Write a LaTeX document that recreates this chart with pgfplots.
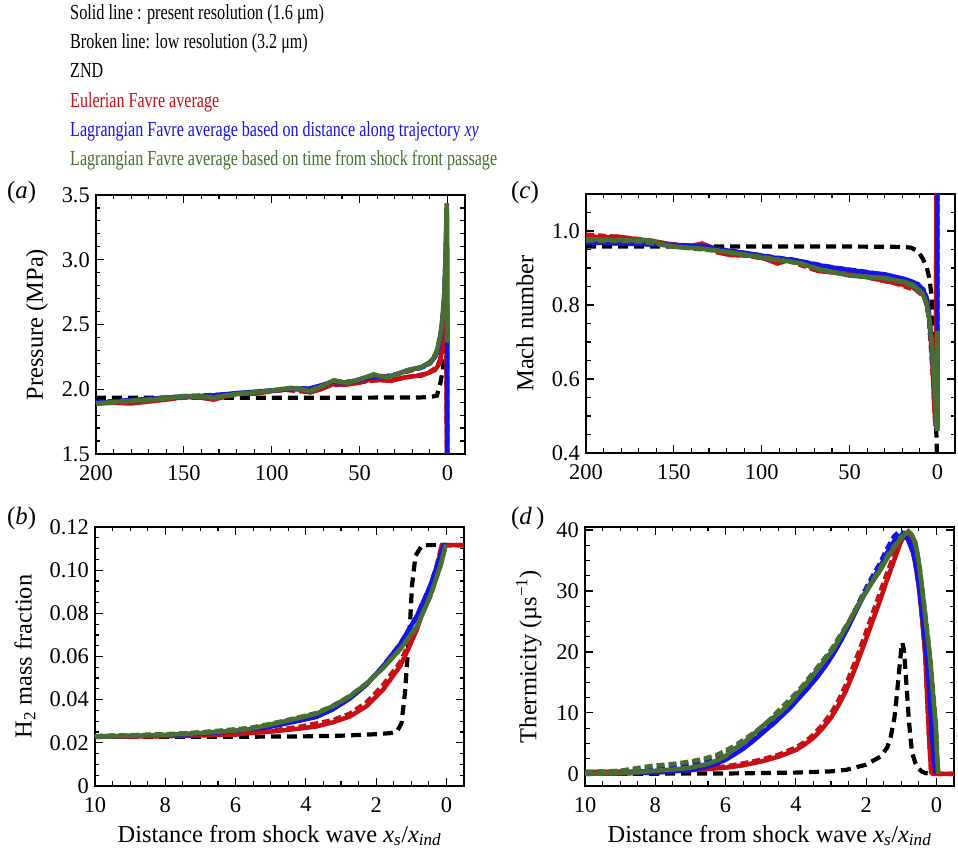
\documentclass[border=0pt]{standalone}
\usepackage{fontspec}
\setmainfont{Liberation Serif}
\usepackage{graphicx}
\usepackage{pgfplots}
\pgfplotsset{compat=1.18}
\definecolor{cred}{RGB}{200,16,20}
\definecolor{cblue}{RGB}{20,20,230}
\definecolor{cgreen}{RGB}{72,110,50}
\newcommand{\tickfont}{\fontsize{22.5}{25}\selectfont}
\newcommand{\labfont}{\fontsize{24.5}{28}\selectfont}
\pgfplotsset{
  panel/.style={
    scale only axis, width=369bp, height=259bp, x dir=reverse,
    axis line style={line width=1.8bp},
    every tick/.style={line width=1.2bp, black},
    major tick length=8bp, minor tick length=4.5bp,
    tick align=inside,
    tick label style={font=\tickfont},
    xticklabel style={inner sep=0pt, yshift=-11bp},
    yticklabel style={inner sep=0pt, xshift=-6bp},
    /pgf/number format/assume math mode=true,
    every axis x label/.style={at={(axis description cs:0.5,0)},anchor=base,yshift=-56bp,font=\labfont},
  },
  zndl/.style={black, line width=4.2bp, dash pattern=on 10bp off 6bp},
  rs/.style={cred, line width=4.5bp},
  bs/.style={cblue, line width=4.5bp},
  gs/.style={cgreen, line width=4.5bp},
  rd/.style={cred, line width=4.5bp, dash pattern=on 8bp off 4bp},
  bd/.style={cblue, line width=4.5bp, dash pattern=on 8bp off 4bp},
  gd/.style={cgreen, line width=4.5bp, dash pattern=on 8bp off 4bp},
}
\begin{document}
\begin{tikzpicture}
\useasboundingbox (0,0) rectangle (958bp,856bp);
% header text
\begin{scope}[every node/.style={anchor=base west, inner sep=0pt, font=\fontsize{21.5}{24}\selectfont}]
\node at (70bp,836bp) {\scalebox{0.76}[1]{Solid line : present resolution (1.6 μm)}};
\node at (70bp,807bp) {\scalebox{0.75}[1]{Broken line: low resolution (3.2 μm)}};
\node at (70bp,778bp) {\scalebox{0.75}[1]{ZND}};
\node[text=cred] at (70bp,748.5bp) {\scalebox{0.75}[1]{Eulerian Favre average}};
\node[text=cblue] at (70bp,719bp) {\scalebox{0.75}[1]{Lagrangian Favre average based on distance along trajectory \textit{xy}}};
\node[text=cgreen] at (70bp,690bp) {\scalebox{0.75}[1]{Lagrangian Favre average based on time from shock front passage}};
\end{scope}
\begin{scope}[every node/.style={anchor=base west, inner sep=0pt, font=\fontsize{25}{28}\selectfont}]
\node at (7bp,657bp) {(\textit{a})};
\node at (511bp,657bp) {(\textit{c})};
\node at (7bp,331bp) {(\textit{b})};
\node at (511bp,331bp) {(\textit{d}\,)};
\end{scope}

% ---------------- (a) Pressure
\begin{axis}[panel, at={(96bp,402bp)}, anchor=south west,
  xmin=-10, xmax=200, ymin=1.5, ymax=3.5,
  xtick={0,50,100,150,200},
  minor xtick={10,20,30,40,60,70,80,90,110,120,130,140,160,170,180,190},
  ytick={1.5,2,2.5,3,3.5}, yticklabels={1.5,2.0,2.5,3.0,3.5},
  minor ytick={1.6,1.7,1.8,1.9,2.1,2.2,2.3,2.4,2.6,2.7,2.8,2.9,3.1,3.2,3.3,3.4},
  ylabel={Pressure (MPa)},
  every axis y label/.style={at={(axis description cs:-0.16,0.5)},rotate=90,anchor=center,font=\labfont},
]
\addplot[zndl] coordinates {(200,1.935) (150,1.935) (100,1.935) (50,1.935) (15,1.937) (9.7,1.94) (6,1.95) (4,2.05) (2.6,2.15) (1.5,2.3) (0.5,2.5) (0,2.6)};
\addplot[rd] coordinates {(200,1.895) (185,1.9) (170,1.91) (155,1.93) (145,1.94) (133,1.925) (120,1.96) (105,1.98) (92,1.995) (80,1.98) (70,2.02) (60,2.04) (50,2.055) (40,2.07) (30,2.075) (20,2.1) (12,2.12) (7,2.16) (4,2.22) (2.5,2.38) (1.5,2.56) (1.0,2.7) (0.5,2.73) (0.3,1.0)};
\addplot[rs] coordinates {(200,1.89) (190,1.895) (180,1.89) (170,1.905) (160,1.92) (150,1.94) (140,1.935) (133,1.92) (125,1.95) (118,1.97) (110,1.965) (100,1.985) (92,2.0) (85,2.0) (78,1.975) (72,2.0) (65,2.04) (58,2.035) (50,2.05) (45,2.07) (38,2.07) (32,2.065) (25,2.09) (20,2.10) (15,2.105) (10,2.13) (7,2.15) (5,2.19) (3.5,2.27) (2.5,2.38) (1.8,2.5) (1.3,2.62) (0.9,2.72) (0.5,2.75) (0.3,1.0)};
\addplot[bd] coordinates {(200,1.9) (175,1.92) (150,1.945) (125,1.96) (100,1.99) (85,2.005) (75,2.01) (65,2.055) (55,2.06) (45,2.09) (35,2.1) (25,2.13) (15,2.165) (10,2.2) (6,2.28) (4,2.4) (2.5,2.57) (1.5,2.8) (0.8,3.1) (0.4,3.2) (0.15,2.36) (0.05,0.5)};
\addplot[bs] coordinates {(200,1.895) (180,1.915) (160,1.935) (150,1.945) (135,1.95) (120,1.97) (100,1.99) (90,2.0) (80,2.0) (72,2.03) (65,2.06) (58,2.05) (50,2.07) (42,2.1) (35,2.09) (28,2.12) (22,2.15) (15,2.17) (10,2.2) (7,2.25) (5,2.33) (3.5,2.45) (2.5,2.58) (1.8,2.72) (1.2,2.95) (0.8,3.15) (0.5,3.3) (0.3,3.3) (0.05,2.36) (0.0,0.5)};
\addplot[gd] coordinates {(200,1.89) (175,1.915) (150,1.945) (130,1.94) (115,1.97) (100,1.99) (89,2.01) (78,1.99) (64,2.065) (57,2.05) (42,2.11) (34,2.095) (23,2.14) (15,2.17) (10,2.2) (6,2.29) (3.4,2.47) (1.9,2.7) (1.0,3.0) (0.5,3.35) (0.3,3.35) (0.2,2.36)};
\addplot[gs] coordinates {(200,1.89) (190,1.90) (180,1.91) (170,1.915) (160,1.93) (150,1.948) (140,1.945) (133,1.935) (125,1.955) (115,1.97) (105,1.98) (100,1.99) (95,2.0) (89,2.01) (84,2.005) (78,1.985) (72,2.02) (64.5,2.07) (60,2.055) (57,2.05) (50,2.075) (42,2.115) (38,2.1) (34.5,2.09) (28,2.12) (23,2.145) (18,2.16) (15,2.17) (10,2.21) (8,2.24) (6,2.30) (4.5,2.38) (3.4,2.48) (2.5,2.6) (1.9,2.71) (1.4,2.85) (1.0,3.05) (0.7,3.25) (0.5,3.42) (0.3,3.42) (0.1,2.36)};
\end{axis}

% ---------------- (c) Mach
\begin{axis}[panel, at={(586bp,403bp)}, anchor=south west,
  xmin=-10, xmax=200, ymin=0.4, ymax=1.1,
  xtick={0,50,100,150,200},
  minor xtick={10,20,30,40,60,70,80,90,110,120,130,140,160,170,180,190},
  ytick={0.4,0.6,0.8,1.0}, yticklabels={0.4,0.6,0.8,1.0},
  minor ytick={0.45,0.5,0.55,0.65,0.7,0.75,0.85,0.9,0.95,1.05},
  ylabel={Mach number},
  every axis y label/.style={at={(axis description cs:-0.165,0.5)},rotate=90,anchor=center,font=\labfont},
]
\addplot[zndl] coordinates {(200,0.958) (150,0.958) (100,0.958) (50,0.958) (20,0.957) (15,0.955) (11,0.945) (8.3,0.925) (6,0.9) (4.5,0.87) (3.5,0.83) (2.6,0.76) (1.8,0.65) (1.1,0.54) (0.6,0.45) (0.3,0.40) (0,0.39)};
\addplot[rd] coordinates {(200,0.99) (185,0.985) (170,0.978) (155,0.966) (140,0.96) (133,0.963) (125,0.945) (110,0.935) (95,0.922) (85,0.92) (70,0.895) (55,0.886) (40,0.875) (25,0.86) (12,0.84) (7,0.82) (5,0.77) (3.6,0.68) (2.5,0.6) (1.8,0.53) (1.2,0.48) (0.8,0.47) (0.6,1.2)};
\addplot[rs] coordinates {(200,0.987) (190,0.982) (182,0.985) (172,0.978) (163,0.974) (153,0.965) (145,0.958) (140,0.96) (134,0.966) (128,0.955) (125,0.942) (118,0.935) (106,0.933) (98,0.925) (91,0.912) (87,0.918) (83.5,0.924) (78,0.918) (68,0.892) (60,0.888) (49,0.883) (40,0.875) (30,0.865) (20.5,0.856) (15,0.85) (11,0.838) (7.2,0.825) (5,0.78) (3.6,0.70) (2.6,0.62) (1.8,0.53) (1.2,0.48) (0.8,0.47) (0.6,1.2)};
\addplot[bd] coordinates {(200,0.97) (170,0.965) (140,0.96) (120,0.948) (100,0.934) (80,0.92) (60,0.902) (40,0.889) (25,0.877) (14,0.862) (8,0.842) (6,0.818) (4.6,0.77) (3.5,0.7) (2.5,0.64) (1.5,0.57) (0.8,0.52) (0.4,0.48) (0.1,0.47) (0.05,0.73) (0,1.2)};
\addplot[bs] coordinates {(200,0.969) (180,0.966) (165,0.964) (153,0.963) (140,0.96) (130,0.957) (125,0.951) (115,0.944) (106,0.938) (96,0.93) (87,0.924) (78,0.918) (68,0.908) (58,0.9) (49,0.894) (40,0.888) (30,0.883) (24,0.876) (18.5,0.870) (14,0.862) (11,0.856) (8,0.84) (6,0.815) (4.6,0.77) (3.5,0.7) (2.5,0.64) (1.5,0.57) (0.8,0.52) (0.4,0.48) (0.1,0.47) (0.05,0.73) (0.0,1.2)};
\addplot[gd] coordinates {(200,0.975) (170,0.972) (150,0.958) (125,0.946) (100,0.93) (80,0.914) (68,0.898) (50,0.88) (35,0.874) (20,0.863) (11,0.843) (8,0.828) (6,0.8) (4.6,0.76) (3.5,0.71) (2.7,0.66) (1.9,0.6) (1.2,0.535) (0.7,0.49) (0.4,0.47) (0.1,0.46) (0.05,0.73)};
\addplot[gs] coordinates {(200,0.978) (185,0.976) (163,0.974) (155,0.962) (147,0.956) (135,0.953) (125,0.947) (115,0.94) (106,0.933) (96,0.925) (87,0.92) (78,0.913) (68,0.897) (58,0.887) (49,0.879) (40,0.876) (30,0.873) (24,0.867) (18.5,0.862) (14,0.855) (11,0.842) (8.3,0.829) (6,0.8) (4.6,0.761) (3.5,0.71) (2.7,0.661) (1.9,0.6) (1.2,0.535) (0.7,0.49) (0.4,0.471) (0.1,0.46) (0.05,0.73)};
\end{axis}

% ---------------- (b) H2 mass fraction
\begin{axis}[panel, at={(95bp,70bp)}, anchor=south west,
  xmin=-0.5, xmax=10, ymin=0, ymax=0.12,
  xtick={0,2,4,6,8,10},
  minor xtick={0.5,1,1.5,2.5,3,3.5,4.5,5,5.5,6.5,7,7.5,8.5,9,9.5},
  ytick={0,0.02,0.04,0.06,0.08,0.10,0.12}, yticklabels={0,0.02,0.04,0.06,0.08,0.10,0.12},
  minor ytick={0.005,0.01,0.015,0.025,0.03,0.035,0.045,0.05,0.055,0.065,0.07,0.075,0.085,0.09,0.095,0.105,0.11,0.115},
  ylabel={H\textsubscript{2} mass fraction},
  every axis y label/.style={at={(axis description cs:-0.19,0.5)},rotate=90,anchor=center,font=\labfont},
  xlabel={Distance from shock wave \textit{x}\textsubscript{\textit{s}}/\textit{x}\textsubscript{\textit{ind}}},
]
\addplot[zndl] coordinates {(10,0.0228) (8,0.0228) (6,0.0228) (4,0.023) (3,0.0233) (2,0.024) (1.6,0.0245) (1.41,0.0252) (1.28,0.029) (1.18,0.043) (1.1,0.0617) (1.03,0.0772) (0.98,0.0927) (0.88,0.1067) (0.69,0.1116) (0.4,0.1116) (0,0.1116) (-0.5,0.1116)};
\addplot[rd] coordinates {(10,0.0228) (8,0.0232) (6,0.024) (5,0.0256) (4.18,0.0274) (3.23,0.0305) (2.75,0.0335) (2.27,0.0388) (1.8,0.0468) (1.32,0.0572) (0.84,0.0735) (0.55,0.087) (0.32,0.0992) (0.13,0.1116) (-0.5,0.1116)};
\addplot[rs] coordinates {(10,0.0228) (9,0.0229) (8,0.0231) (7,0.0234) (6,0.0238) (5.62,0.0245) (5,0.0252) (4.18,0.0266) (3.7,0.0276) (3.23,0.0295) (2.75,0.0322) (2.27,0.037) (1.8,0.0447) (1.32,0.0555) (1.1,0.063) (0.84,0.0726) (0.55,0.0865) (0.32,0.0989) (0.2,0.106) (0.13,0.1116) (-0.5,0.1116)};
\addplot[bd] coordinates {(10,0.023) (8,0.0237) (6,0.0258) (5,0.0278) (4.2,0.0305) (3.7,0.0323) (3.23,0.0358) (2.75,0.0407) (2.27,0.0472) (1.8,0.0556) (1.32,0.0656) (0.84,0.0787) (0.46,0.0927) (0.17,0.1067) (0.07,0.1116) (0,0.1116)};
\addplot[bs] coordinates {(10,0.023) (9,0.0232) (8,0.0235) (7,0.0242) (6,0.0255) (5.62,0.0262) (5,0.0275) (4.2,0.0302) (3.7,0.032) (3.23,0.0355) (2.75,0.0405) (2.27,0.047) (1.8,0.0555) (1.32,0.0656) (0.84,0.0787) (0.46,0.0927) (0.17,0.1067) (0.07,0.1116) (0,0.1116)};
\addplot[gd] coordinates {(10,0.0231) (8,0.024) (7,0.0248) (6,0.0263) (5.62,0.0268) (5,0.0288) (4.2,0.0318) (3.7,0.0338) (3.23,0.0372) (2.75,0.0417) (2.27,0.0476) (1.8,0.0548) (1.32,0.0633) (0.84,0.074) (0.46,0.088) (0.17,0.102) (0.03,0.111) (0,0.1116)};
\addplot[gs] coordinates {(10,0.0229) (9,0.0232) (8,0.0237) (7,0.0245) (6,0.0257) (5.62,0.0263) (5,0.0285) (4.2,0.0315) (3.7,0.0335) (3.23,0.037) (2.75,0.0415) (2.27,0.0475) (1.8,0.0547) (1.32,0.0633) (0.84,0.074) (0.46,0.088) (0.17,0.102) (0.03,0.111) (0,0.1116)};
\end{axis}

% ---------------- (d) Thermicity
\begin{axis}[panel, at={(585bp,70bp)}, anchor=south west,
  xmin=-0.5, xmax=10, ymin=-2, ymax=40.5,
  xtick={0,2,4,6,8,10},
  minor xtick={0.5,1,1.5,2.5,3,3.5,4.5,5,5.5,6.5,7,7.5,8.5,9,9.5},
  ytick={0,10,20,30,40},
  minor ytick={2.5,5,7.5,12.5,15,17.5,22.5,25,27.5,32.5,35,37.5},
  ylabel={Thermicity (µs\textsuperscript{−1})},
  every axis y label/.style={at={(axis description cs:-0.152,0.5)},rotate=90,anchor=center,font=\labfont},
  xlabel={Distance from shock wave \textit{x}\textsubscript{\textit{s}}/\textit{x}\textsubscript{\textit{ind}}},
]
\addplot[zndl] coordinates {(10,0) (6,0.05) (4,0.2) (3,0.4) (2.56,0.66) (2,1.5) (1.6,2.8) (1.4,4.3) (1.3,6.1) (1.2,9) (1.13,12.7) (1.06,17) (1.0,20.5) (0.97,21.5) (0.93,20.5) (0.88,17) (0.83,12.7) (0.78,8.5) (0.73,5.5) (0.69,3.4) (0.6,1.8) (0.5,0.8) (0.4,0.3) (0.3,0.1) (0.1,0)};
\addplot[rd] coordinates {(10,0.3) (9,0.4) (8,0.5) (7,0.75) (6,1.2) (5.5,1.7) (5,2.3) (4.5,3.1) (4,4.3) (3.75,5.2) (3.5,6.4) (3.25,8.0) (3.0,9.9) (2.78,12.1) (2.56,14.8) (2.32,18.3) (2.08,22) (1.84,25.9) (1.6,29.8) (1.4,33) (1.2,36) (1.03,38.4) (0.9,39.5) (0.82,39.6) (0.72,38.5) (0.6,34.5) (0.5,30.7) (0.4,25) (0.32,19.8) (0.25,11) (0.2,5) (0.15,0.3) (0.1,0) (-0.5,0)};
\addplot[rs] coordinates {(10,0.3) (9,0.35) (8,0.4) (7,0.6) (6,1.0) (5.5,1.4) (5,2.0) (4.5,2.8) (4,3.9) (3.75,4.8) (3.5,5.9) (3.25,7.4) (3.0,9.2) (2.78,11.3) (2.56,13.8) (2.32,17.2) (2.08,20.9) (1.84,24.7) (1.6,28.5) (1.4,31.9) (1.2,35.1) (1.03,37.8) (0.9,39.3) (0.8,39.5) (0.7,38) (0.6,34.5) (0.5,30.7) (0.4,25) (0.32,19.8) (0.25,11) (0.2,5) (0.15,0.3) (0.1,0) (-0.5,0)};
\addplot[bd] coordinates {(10,0.1) (9,0.4) (8,0.9) (7.5,1.2) (7,1.6) (6.6,2.2) (6.24,2.8) (5.8,4) (5.5,5) (5.2,6.4) (4.85,7.8) (4.42,9.8) (4.15,11.2) (3.9,12.8) (3.65,14.4) (3.4,16.1) (3.17,18) (2.94,20) (2.72,22.1) (2.5,24.5) (2.29,27.1) (2.08,29.6) (1.84,32.2) (1.6,34.6) (1.4,37) (1.2,39.0) (1.05,39.8) (0.92,39.4) (0.8,38.6) (0.66,36.4) (0.56,33.7) (0.47,29.8) (0.37,24.7) (0.27,18.9) (0.19,12.7) (0.12,6.2) (0.06,2) (0.02,0)};
\addplot[bs] coordinates {(10,0) (9,0.05) (8,0.2) (7.5,0.4) (7,0.6) (6.6,1.1) (6.24,1.7) (6,2.3) (5.8,3) (5.5,4.1) (5.3,5) (5.07,6.1) (4.85,7.2) (4.62,8.3) (4.42,9.4) (4.15,10.9) (3.9,12.5) (3.65,14.1) (3.4,15.8) (3.17,17.6) (2.94,19.6) (2.72,21.8) (2.5,24.2) (2.29,26.7) (2.08,29.1) (1.84,31.6) (1.6,34) (1.4,36.3) (1.2,38.2) (1.08,38.9) (0.97,39.2) (0.88,39) (0.8,38.3) (0.66,36.2) (0.56,33.5) (0.47,29.6) (0.37,24.5) (0.27,18.7) (0.19,12.5) (0.12,6) (0.06,2) (0.02,0)};
\addplot[gd] coordinates {(10,0.2) (9,0.5) (8.1,1.3) (7.5,1.6) (7,2.0) (6.6,2.5) (6.24,3.1) (5.8,4.4) (5.5,5.5) (5.2,6.7) (4.9,8.0) (4.65,9.4) (4.42,10.8) (4.15,12.3) (3.9,13.8) (3.45,17) (3,20.3) (2.75,22.6) (2.5,24.9) (2.29,27.1) (2.08,29.3) (1.84,31.5) (1.6,33.7) (1.4,35.7) (1.2,37.4) (1.0,38.9) (0.8,39.8) (0.7,39.2) (0.6,38) (0.47,33.6) (0.36,28.3) (0.26,23.3) (0.17,18.5) (0.08,12.3) (0.02,8.4) (-0.02,3) (-0.05,0)};
\addplot[gs] coordinates {(10,0) (9.5,0.05) (9,0.1) (8.5,0.25) (8,0.5) (7.5,0.7) (7,1.0) (6.6,1.5) (6.24,2.2) (6,2.9) (5.8,3.9) (5.5,5.0) (5.3,6) (5.07,7.2) (4.85,8.3) (4.42,10.2) (4.15,11.8) (3.9,13.5) (3.65,15.2) (3.4,17) (3.17,18.7) (2.94,20.4) (2.72,22.6) (2.5,24.8) (2.29,27) (2.08,29.1) (1.84,31.3) (1.6,33.4) (1.4,35.4) (1.2,37.2) (1.0,38.7) (0.9,39.3) (0.8,39.6) (0.72,39.3) (0.64,38.5) (0.55,36.5) (0.47,33.4) (0.36,28) (0.26,23) (0.17,18.2) (0.08,12) (0.02,8.2) (-0.02,3) (-0.05,0)};
\end{axis}
\end{tikzpicture}
\end{document}
